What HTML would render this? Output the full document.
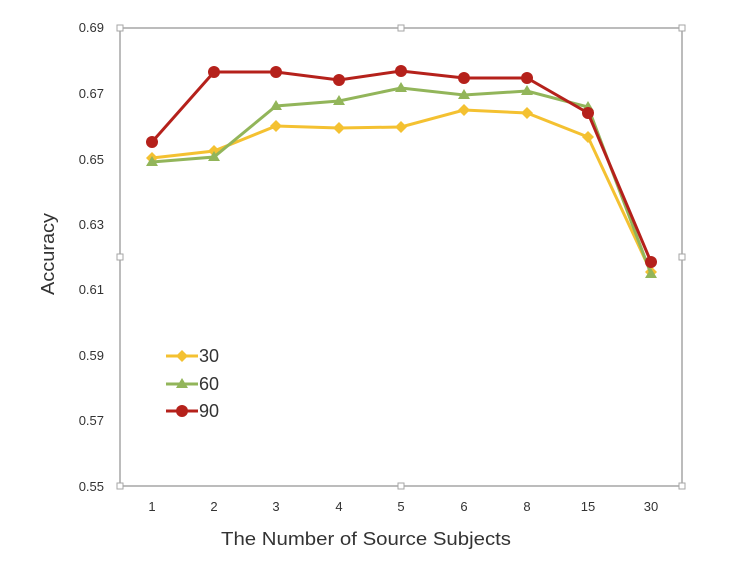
<!DOCTYPE html>
<html><head><meta charset="utf-8"><style>body{margin:0;background:#fff}svg{display:block}</style></head>
<body>
<svg width="737" height="564" xmlns="http://www.w3.org/2000/svg" font-family="Liberation Sans, sans-serif">
<rect x="120" y="28" width="562" height="458" fill="none" stroke="#a6a6a6" stroke-width="1.5"/>
<g fill="#fff" stroke="#a6a6a6" stroke-width="1">
<rect x="117" y="25" width="6" height="6"/><rect x="398" y="25" width="6" height="6"/><rect x="679" y="25" width="6" height="6"/>
<rect x="117" y="254" width="6" height="6"/><rect x="679" y="254" width="6" height="6"/>
<rect x="117" y="483" width="6" height="6"/><rect x="398" y="483" width="6" height="6"/><rect x="679" y="483" width="6" height="6"/>
</g>
<g font-size="13" fill="#333" text-anchor="end">
<text x="104" y="32">0.69</text><text x="104" y="98">0.67</text><text x="104" y="164">0.65</text><text x="104" y="229">0.63</text><text x="104" y="294">0.61</text><text x="104" y="360">0.59</text><text x="104" y="425">0.57</text><text x="104" y="491">0.55</text>
</g>
<g font-size="13" fill="#333" text-anchor="middle">
<text x="152" y="511">1</text><text x="214" y="511">2</text><text x="276" y="511">3</text><text x="339" y="511">4</text><text x="401" y="511">5</text><text x="464" y="511">6</text><text x="527" y="511">8</text><text x="588" y="511">15</text><text x="651" y="511">30</text>
</g>
<text x="221" y="545" font-size="18" fill="#333" textLength="290" lengthAdjust="spacingAndGlyphs">The Number of Source Subjects</text>
<text transform="translate(54,295) rotate(-90)" font-size="18" fill="#333" textLength="82" lengthAdjust="spacingAndGlyphs">Accuracy</text>
<polyline fill="none" stroke="#f4c131" stroke-width="3" points="152,158 214,151 276,126 339,128 401,127 464,110 527,113 588,137 651,272"/>
<g fill="#f4c131"><path d="M152,152l6,6l-6,6l-6,-6z"/><path d="M214,145l6,6l-6,6l-6,-6z"/><path d="M276,120l6,6l-6,6l-6,-6z"/><path d="M339,122l6,6l-6,6l-6,-6z"/><path d="M401,121l6,6l-6,6l-6,-6z"/><path d="M464,104l6,6l-6,6l-6,-6z"/><path d="M527,107l6,6l-6,6l-6,-6z"/><path d="M588,131l6,6l-6,6l-6,-6z"/><path d="M651,266l6,6l-6,6l-6,-6z"/></g>
<polyline fill="none" stroke="#92b55a" stroke-width="3" points="152,162 214,157 276,106 339,101 401,88 464,95 527,91 588,107 651,274"/>
<g fill="#92b55a"><path d="M152,156l6,10h-12z"/><path d="M214,151l6,10h-12z"/><path d="M276,100l6,10h-12z"/><path d="M339,95l6,10h-12z"/><path d="M401,82l6,10h-12z"/><path d="M464,89l6,10h-12z"/><path d="M527,85l6,10h-12z"/><path d="M588,101l6,10h-12z"/><path d="M651,268l6,10h-12z"/></g>
<polyline fill="none" stroke="#b5211b" stroke-width="3" points="152,142 214,72 276,72 339,80 401,71 464,78 527,78 588,113 651,262"/>
<g fill="#b5211b"><circle cx="152" cy="142" r="6"/><circle cx="214" cy="72" r="6"/><circle cx="276" cy="72" r="6"/><circle cx="339" cy="80" r="6"/><circle cx="401" cy="71" r="6"/><circle cx="464" cy="78" r="6"/><circle cx="527" cy="78" r="6"/><circle cx="588" cy="113" r="6"/><circle cx="651" cy="262" r="6"/></g>
<g font-size="18" fill="#333">
<line x1="166" y1="356" x2="198" y2="356" stroke="#f4c131" stroke-width="3"/><path d="M182,350l6,6l-6,6l-6,-6z" fill="#f4c131"/><text x="199" y="362">30</text>
<line x1="166" y1="384" x2="198" y2="384" stroke="#92b55a" stroke-width="3"/><path d="M182,378l6,10h-12z" fill="#92b55a"/><text x="199" y="390">60</text>
<line x1="166" y1="411" x2="198" y2="411" stroke="#b5211b" stroke-width="3"/><circle cx="182" cy="411" r="6" fill="#b5211b"/><text x="199" y="417">90</text>
</g>
</svg>
</body></html>
